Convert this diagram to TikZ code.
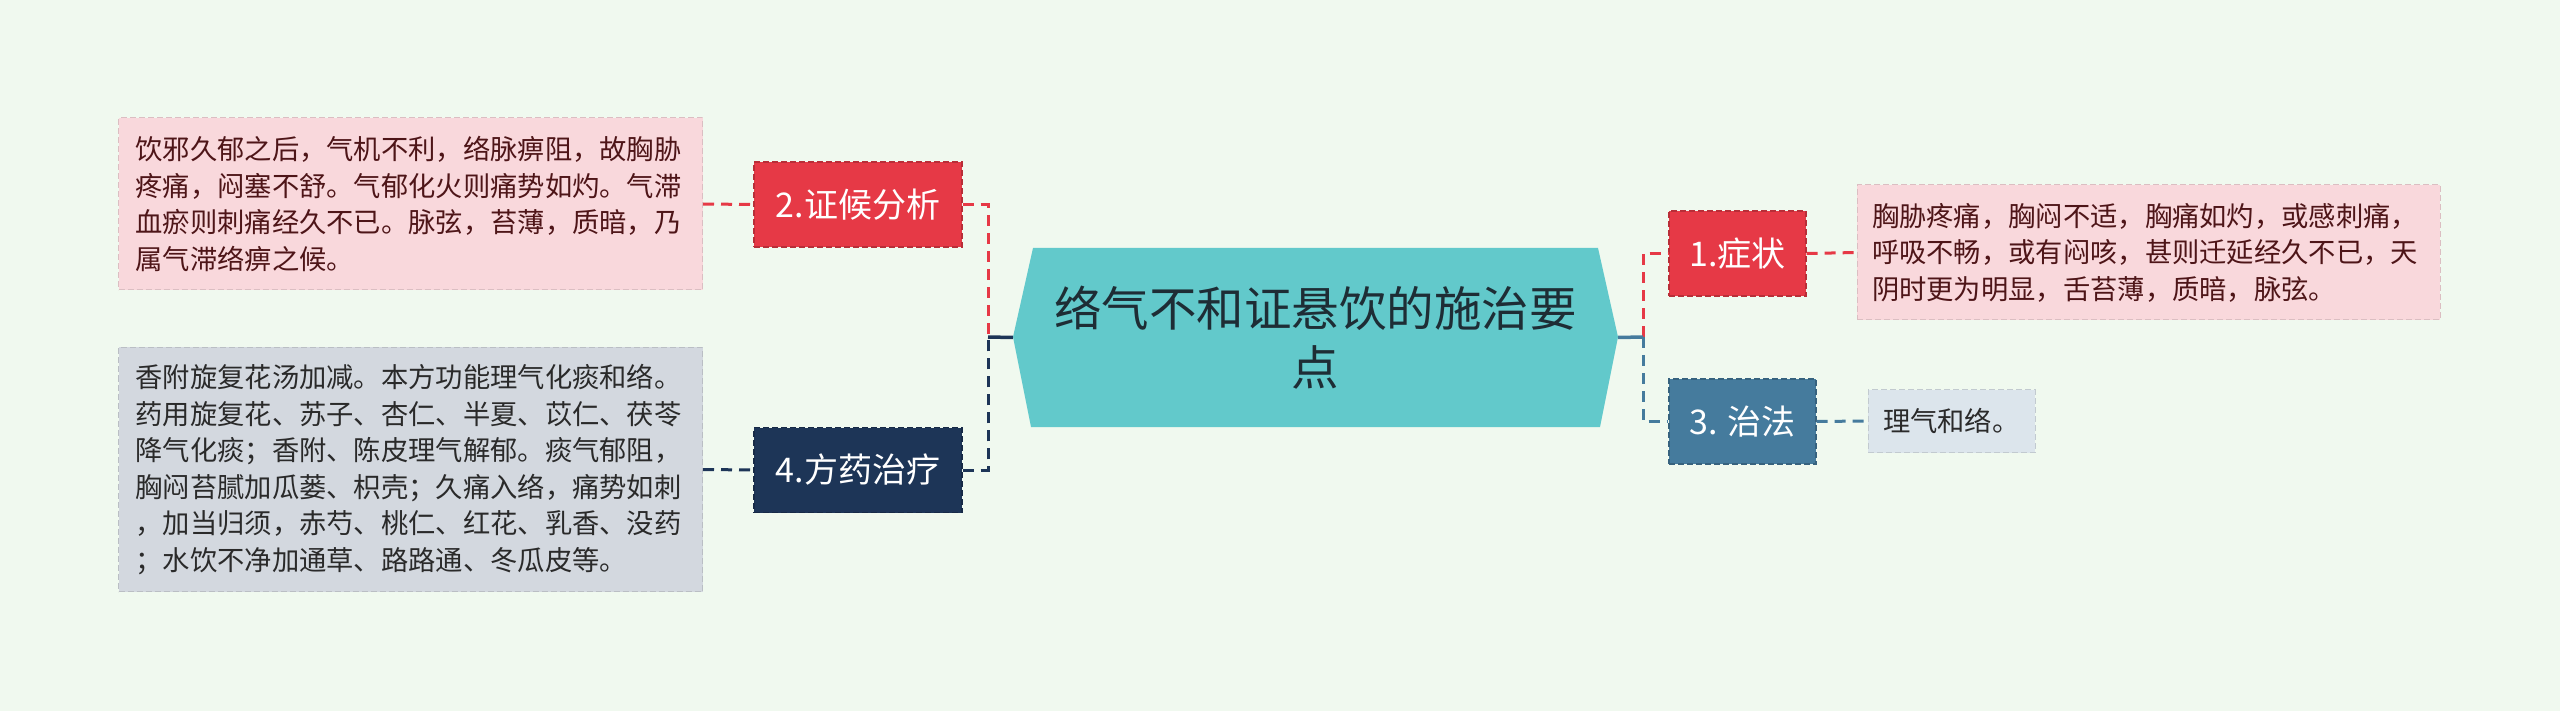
\documentclass[tikz,border=0pt]{standalone}
\usepackage{fontspec}
\setmainfont{Noto Sans CJK SC}
\definecolor{cBg}{HTML}{F0F9EF}
\definecolor{cPink}{HTML}{F9D8DC}
\definecolor{cGrey}{HTML}{D3D8DF}
\definecolor{cLight}{HTML}{DCE5EC}
\definecolor{cRed}{HTML}{E63946}
\definecolor{cNavy}{HTML}{1D3557}
\definecolor{cSteel}{HTML}{457B9D}
\definecolor{cTeal}{HTML}{62C9CB}
\definecolor{cMaroon}{HTML}{4E1518}
\definecolor{cDark}{HTML}{2A2A2A}
\definecolor{cTitle}{HTML}{1E2D35}
\tikzset{
  leaf/.style={rectangle, inner xsep=17pt, inner ysep=0pt, align=left,
    font=\fontsize{27.3}{36.5}\selectfont, text width=550pt,
    draw=#1!88!black, dash pattern=on 6pt off 3pt, line width=1pt, fill=#1},
  topic/.style={rectangle, text=white, font=\fontsize{34}{40}\selectfont,
    inner sep=0pt, minimum height=85pt, fill=#1, draw=#1!80!black,
    dash pattern=on 6pt off 3pt, line width=1.2pt},
  conn/.style={draw=#1, line width=3pt, dash pattern=on 11pt off 7pt},
  stem/.style={draw=#1, line width=3.5pt},
}
\begin{document}
\begin{tikzpicture}[x=1pt,y=-1pt]
\fill[cBg] (0,0) rectangle (2560,711);
% central hexagon
\fill[cTeal] (1013,337) -- (1033,248) -- (1598,248) -- (1618,337) -- (1600,427) -- (1031,427) -- cycle;
\node[inner sep=0pt, minimum width=605pt, minimum height=179pt, align=center,
  text=cTitle, font=\fontsize{47.5}{59}\selectfont] (root) at (1315.5,337.5)
  {络气不和证悬饮的施治要\\点};
\coordinate (lj) at (988,337);
\coordinate (rj) at (1643,337);
% left topics
\node[topic=cRed, minimum width=208pt] (n2) at (858,204.5) {2.证候分析};
\node[topic=cNavy, minimum width=208pt] (n4) at (858,470) {4.方药治疗};
% right topics
\node[topic=cRed, minimum width=137pt] (n1) at (1737.5,253.5) {1.症状};
\node[topic=cSteel, minimum width=147pt] (n3) at (1742.5,421.5) {3. 治法};
% leaves
\node[leaf=cPink, text=cMaroon, minimum height=172pt] (p2) at (410.5,204)
 {饮邪久郁之后，气机不利，络脉痹阻，故胸胁\\疼痛，闷塞不舒。气郁化火则痛势如灼。气滞\\血瘀则刺痛经久不已。脉弦，苔薄，质暗，乃\\属气滞络痹之候。};
\node[leaf=cGrey, text=cDark, minimum height=244pt] (g4) at (410.5,469.5)
 {香附旋复花汤加减。本方功能理气化痰和络。\\药用旋复花、苏子、杏仁、半夏、苡仁、茯苓\\降气化痰；香附、陈皮理气解郁。痰气郁阻，\\胸闷苔腻加瓜蒌、枳壳；久痛入络，痛势如刺\\，加当归须，赤芍、桃仁、红花、乳香、没药\\；水饮不净加通草、路路通、冬瓜皮等。};
\node[leaf=cPink, text=cMaroon, minimum height=135pt, inner xsep=15pt, text width=553pt] (p1) at (2148.5,252.5)
 {胸胁疼痛，胸闷不适，胸痛如灼，或感刺痛，\\呼吸不畅，或有闷咳，甚则迁延经久不已，天\\阴时更为明显，舌苔薄，质暗，脉弦。};
\node[leaf=cLight, text=cDark, minimum height=63pt, text width=137pt, inner xsep=15pt] (b3) at (1951.5,421)
 {理气和络。};
% connectors left
\draw[conn=cRed] (n2.east) -| (lj);
\draw[conn=cNavy] (n4.east) -| (lj);
\draw[stem=cNavy] (root.west) -- (lj);
\draw[conn=cRed] (p2.east) -- (n2.west);
\draw[conn=cNavy] (g4.east) -- (n4.west);
% connectors right
\draw[conn=cRed] (rj) |- (n1.west);
\draw[conn=cSteel] (rj) |- (n3.west);
\draw[stem=cSteel] (root.east) -- (rj);
\draw[conn=cRed] (n1.east) -- (p1.west);
\draw[conn=cSteel] (n3.east) -- (b3.west);
\end{tikzpicture}
\end{document}
